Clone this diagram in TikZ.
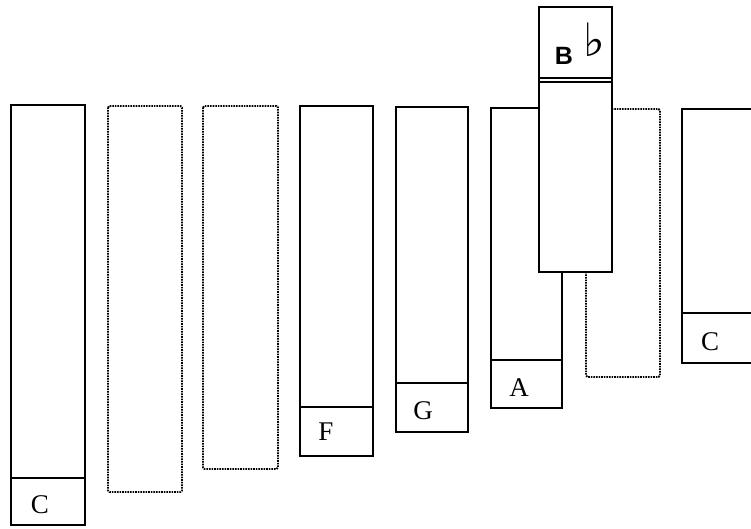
\documentclass[tikz,border=0pt]{standalone}
\usepackage{fontspec}
\setmainfont{Liberation Serif}
\newfontfamily\bsans{Liberation Sans}
\newfontfamily\djv{DejaVu Sans}
\begin{document}
\begin{tikzpicture}[x=1pt,y=-1pt]
\tikzset{
  bar/.style={draw, line width=1.6pt, fill=white},
  sepline/.style={line width=1.6pt},
  ghost/.style={draw, dash pattern=on 1.6pt off 1.0pt, line width=1.8pt, rounded corners=1.5pt},
  lab/.style={font=\fontsize{27}{27}\selectfont, inner sep=0pt}
}
\useasboundingbox (0,0) rectangle (751,528);
\clip (0,0) rectangle (751,528);
% C (low)
\draw[bar] (11,105) rectangle (85,525);
\draw[sepline] (11,478) -- (85,478);
\node[lab] (c1) at (40,505) {C};
% dotted keys
\draw[ghost] (108,106) rectangle (182,492);
\draw[ghost] (203,106) rectangle (278,469);
% F
\draw[bar] (300,106) rectangle (373,456);
\draw[sepline] (300,407) -- (373,407);
\node[lab] (f) at (326,432) {F};
% G
\draw[bar] (396,107) rectangle (468,432);
\draw[sepline] (396,383) -- (468,383);
\node[lab] (g) at (423,411) {G};
% A
\draw[bar] (491,108) rectangle (562,408);
\draw[sepline] (491,360) -- (562,360);
\node[lab] (a) at (519,388) {A};
% dotted behind Bb
\draw[ghost] (586,109) rectangle (660,377);
% C (high)
\draw[bar] (682,109) rectangle (775,363);
\draw[sepline] (682,313) -- (775,313);
\node[lab] (c2) at (710,342) {C};
% B flat on top
\draw[bar] (539,7) rectangle (612,272);
\draw[sepline] (539,78) -- (612,78);
\draw[sepline] (539,82) -- (612,82);
\node[font=\bsans\bfseries\fontsize{25}{25}\selectfont, inner sep=0pt] (b) at (564,56) {B};
\node[font=\djv\fontsize{46}{46}\selectfont, inner sep=0pt] (flat) at (594,40) {♭};
\end{tikzpicture}
\end{document}
